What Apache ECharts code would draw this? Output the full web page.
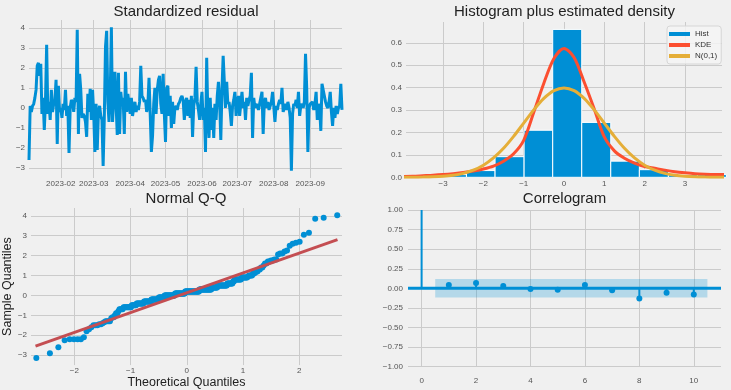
<!DOCTYPE html>
<html><head><meta charset="utf-8">
<script src="https://cdn.jsdelivr.net/npm/echarts@6/dist/echarts.min.js"></script>
<style>html,body{margin:0;padding:0;background:#f0f0f0}#c{width:731px;height:390px}</style>
</head><body><div id="c"></div>
<script>
// ---------- data ----------
const startDate = '2023-01-05';
const residuals = [
 -2.6, 0.1, -0.2, 0.1, 0.2, 0.5, 0.9, 2.1, 2.25, 1.6,
 2.2, -0.3, 0.5, -1.1, 0.3, 3.15, -0.3, 0.3, -0.6, 0.9,
 -0.2, 0.2, 0.4, 1.4, -1.8, 1.1, -0.2, 0.0, -0.5, 0.2,
 -0.1, 0.9, -0.4, 0.1, -2.25, 0.0, 0.4, 0.3, -0.2, 0.5,
 0.3, 3.9, -1.3, 1.7, 0.9, -0.5, -0.3, -0.4, -0.7, -1.45,
 0.7, -0.2, 0.95, -0.6, 0.9, -0.3, -2.2, 0.2, -2.1, -0.2,
 0.1, -0.4, -0.6, -2.9, -0.5, 3.05, 3.85, 0.3, -0.7, 0.5,
 4.03, -0.7, 0.4, 1.8, 0.2, -1.35, 1.75, -1.3, 0.8, 0.2,
 0.5, -1.3, 1.8, -0.2, 0.7, 0.2, -0.3, 0.5, -0.4, 0.0,
 0.3, -0.2, 0.1, -0.1, 0.3, 2.1, 0.6, 0.5, 0.3, 0.4,
 -0.2, 0.1, 1.5, -0.3, -2.2, -1.4, 0.2, 1.0, -0.3, 0.9,
 1.4, 1.6, 0.2, -0.3, 1.7, -0.3, -1.7, 1.0, 1.1, -0.4,
 0.6, -1.0, 0.3, -0.8, 0.0, 0.1, -0.1, 0.2, 0.3, 0.5,
 0.6, 0.4, -0.6, 0.2, 0.5, -0.4, 0.4, -0.5, 0.6, -1.45,
 0.1, 0.5, 2.05, 0.3, -0.1, -0.6, 0.2, 0.8, -0.6, 0.0,
 -2.2, 2.5, -0.4, -1.5, 0.5, -1.1, 0.0, -1.5, 0.2, -0.6,
 0.6, 1.3, 0.3, -1.6, 0.9, 2.6, 2.65, 0.0, 1.3, 0.2,
 0.3, -0.2, -0.9, 0.1, 0.4, 0.8, -0.4, 0.2, 0.6, -0.4,
 0.2, 0.8, 0.0, 0.3, -0.6, 0.5, 0.1, 0.4, 0.6, 1.75,
 -1.5, 0.5, 0.0, 0.2, 0.1, -0.1, 0.2, 0.5, 0.8, -1.3,
 0.3, 0.5, 0.0, 0.3, -0.1, 0.1, 0.3, 0.8, 0.1, -0.7,
 0.1, -0.1, 0.2, 0.4, 0.2, 1.0, -0.2, 0.0, 0.2, -0.1,
 0.3, 0.0, -0.5, -3.14, -0.3, 0.2, 0.1, 0.4, 0.0, 0.8,
 -0.4, 0.1, 0.2, 0.0, 0.3, 2.7, 1.0, -2.2, 0.0, 0.2,
 0.2, 0.3, -0.1, 0.2, 0.8, -0.6, 0.2, 0.0, -1.15, 1.2,
 1.15, 0.6, 0.3, 0.1, 0.0, 0.3, 0.8, -0.2, -0.9, 0.0,
 -0.5, 0.1, -0.3, 0.0, 0.1, 1.2, -0.1
];
const monthTicks = ['2023-02-01','2023-03-01','2023-04-01','2023-05-01','2023-06-01','2023-07-01','2023-08-01','2023-09-01'];
const residTicks = [-3, -2, -1, 0, 1, 2, 3, 4];

const histEdges = [-3.14, -2.42, -1.71, -0.99, -0.28, 0.44, 1.16, 1.87, 2.59, 3.31, 4.03];
const histDensity = [0.012, 0.03, 0.092, 0.21, 0.66, 0.245, 0.072, 0.034, 0.012, 0.012];
const densityX = [-4,-3.75,-3.5,-3.25,-3,-2.75,-2.5,-2.25,-2,-1.75,-1.5,-1.25,-1,-0.75,-0.5,-0.25,0,0.25,0.5,0.75,1,1.25,1.5,1.75,2,2.25,2.5,2.75,3,3.25,3.5,3.75,4];
const kdeY = [0.004,0.005,0.007,0.009,0.012,0.016,0.021,0.028,0.037,0.05,0.072,0.105,0.165,0.29,0.42,0.53,0.575,0.535,0.425,0.305,0.18,0.118,0.085,0.063,0.048,0.04,0.032,0.025,0.02,0.016,0.014,0.013,0.013];
const normY = [0.0001,0.0004,0.0009,0.002,0.0044,0.0091,0.0175,0.0317,0.054,0.0863,0.1295,0.1826,0.242,0.3011,0.3521,0.3867,0.3989,0.3867,0.3521,0.3011,0.242,0.1826,0.1295,0.0863,0.054,0.0317,0.0175,0.0091,0.0044,0.002,0.0009,0.0004,0.0001];
const histXTicks = [-3, -2, -1, 0, 1, 2, 3];
const histYTicks = [0, 0.1, 0.2, 0.3, 0.4, 0.5, 0.6];

const qqLineX = [-2.69, 2.68];
const qqLineY = [-2.55, 2.8];
const qqXTicks = [-2, -1, 0, 1, 2];

const acfLags = [0, 1, 2, 3, 4, 5, 6, 7, 8, 9, 10];
const acfValues = [1.0, 0.042, 0.068, 0.03, -0.008, -0.017, 0.042, -0.025, -0.13, -0.055, -0.08];
const confLags = [0.5, 2, 3, 4, 5, 6, 7, 8, 9, 10.5];
const confUpper = [0.118, 0.118, 0.118, 0.118, 0.118, 0.118, 0.118, 0.118, 0.118, 0.118];
const acfXTicks = [0, 2, 4, 6, 8, 10];
const acfYTicks = [-1, -0.75, -0.5, -0.25, 0, 0.25, 0.5, 0.75, 1];

// ---------- helpers ----------
const FONT = '"Liberation Sans", Arial, sans-serif';
const BLUE = '#008fd5', RED = '#fc4f30', YEL = '#e5ae38', GRIDC = '#cbcbcb', LAB = '#555555';
const DAY = 86400000;
const t0 = Date.parse(startDate + 'T00:00:00Z');
const residSeries = residuals.map((v, i) => [t0 + i * DAY, v]);
const monthTickTs = monthTicks.map(s => Date.parse(s + 'T00:00:00Z'));
const minus = s => String(s).replace('-', '\u2212');
const fmtMonth = v => { const d = new Date(v); return d.getUTCFullYear() + '-' + String(d.getUTCMonth() + 1).padStart(2, '0'); };

function invNorm(p) {
  const a = [-39.69683028665376, 220.9460984245205, -275.9285104469687, 138.3577518672690, -30.66479806614716, 2.506628277459239];
  const b = [-54.47609879822406, 161.5858368580409, -155.6989798598866, 66.80131188771972, -13.28068155288572];
  const c = [-0.007784894002430293, -0.3223964580411365, -2.400758277161838, -2.549732539343734, 4.374664141464968, 2.938163982698783];
  const d = [0.007784695709041462, 0.3224671290700398, 2.445134137142996, 3.754408661907416];
  const pl = 0.02425;
  let q, r;
  if (p < pl) { q = Math.sqrt(-2 * Math.log(p)); return (((((c[0]*q+c[1])*q+c[2])*q+c[3])*q+c[4])*q+c[5]) / ((((d[0]*q+d[1])*q+d[2])*q+d[3])*q+1); }
  if (p > 1 - pl) { q = Math.sqrt(-2 * Math.log(1 - p)); return -(((((c[0]*q+c[1])*q+c[2])*q+c[3])*q+c[4])*q+c[5]) / ((((d[0]*q+d[1])*q+d[2])*q+d[3])*q+1); }
  q = p - 0.5; r = q * q;
  return (((((a[0]*r+a[1])*r+a[2])*r+a[3])*r+a[4])*r+a[5])*q / (((((b[0]*r+b[1])*r+b[2])*r+b[3])*r+b[4])*r+1);
}
const sorted = residuals.slice().sort((x, y) => x - y);
const nRes = sorted.length;
const qqPoints = sorted.map((v, i) => [invNorm((i + 1) / (nRes + 1)), v]);

const histData = histDensity.map((h, i) => [histEdges[i], histEdges[i + 1], h]);
const kdeData = densityX.map((x, i) => [x, kdeY[i]]);
const normData = densityX.map((x, i) => [x, normY[i]]);

function mkAxis(gridIndex, min, max, ticks, fmt, margin, extra) {
  const ax = {
    gridIndex, type: 'value', min, max,
    axisLine: { show: false },
    axisTick: { show: false, customValues: ticks },
    splitLine: { show: true, lineStyle: { color: GRIDC, width: 1 } },
    axisLabel: { show: true, customValues: ticks, fontSize: 8, color: LAB, fontFamily: FONT, margin: margin, formatter: fmt, hideOverlap: false }
  };
  return Object.assign(ax, extra || {});
}

const chart = echarts.init(document.getElementById('c'), null, { renderer: 'canvas', width: 731, height: 390 });

const option = {
  animation: false,
  backgroundColor: '#f0f0f0',
  textStyle: { fontFamily: FONT },
  grid: [
    { left: 29, top: 20, width: 313, height: 158 },
    { left: 406, top: 22, width: 316, height: 155.3 },
    { left: 29, top: 208, width: 313, height: 158 },
    { left: 408, top: 210, width: 313, height: 156.7 }
  ],
  xAxis: [
    mkAxis(0, t0, t0 + (residuals.length - 1) * DAY, monthTickTs, fmtMonth, 2),
    mkAxis(1, -3.92, 3.92, histXTicks, v => minus(v), 2),
    mkAxis(2, -2.77, 2.76, qqXTicks, v => minus(v), 2, {
      name: 'Theoretical Quantiles', nameLocation: 'middle', nameGap: 10,
      nameTextStyle: { fontSize: 12.5, color: '#222', fontFamily: FONT, verticalAlign: 'top' }
    }),
    mkAxis(3, -0.5, 11, acfXTicks, v => String(v), 10)
  ],
  yAxis: [
    mkAxis(0, -3.5, 4.39, residTicks, v => minus(v), 4),
    mkAxis(1, 0, 0.693, histYTicks, v => v.toFixed(1), 4),
    mkAxis(2, -3.5, 4.39, residTicks, v => minus(v), 4, {
      name: 'Sample Quantiles', nameLocation: 'middle', nameGap: 17, nameRotate: 90,
      nameTextStyle: { fontSize: 12.5, color: '#222', fontFamily: FONT }
    }),
    mkAxis(3, -1, 1, acfYTicks, v => minus(v.toFixed(2)), 5)
  ],
  legend: {
    left: 667, top: 26, orient: 'vertical',
    data: [{ name: 'Hist', icon: 'rect' }, { name: 'KDE', icon: 'rect' }, { name: 'N(0,1)', icon: 'rect' }],
    itemWidth: 21, itemHeight: 4, itemGap: 3,
    padding: [4, 4, 4, 2],
    backgroundColor: 'rgba(244,244,244,0.85)', borderColor: '#d6d6d6', borderWidth: 1, borderRadius: 3,
    textStyle: { fontSize: 8, color: '#333', fontFamily: FONT, lineHeight: 8 }
  },
  graphic: [
    { type: 'text', x: 186, y: 12, style: { text: 'Standardized residual', font: '15px ' + FONT, fill: '#222', textAlign: 'center', textVerticalAlign: 'middle' } },
    { type: 'text', x: 564.5, y: 12, style: { text: 'Histogram plus estimated density', font: '15px ' + FONT, fill: '#222', textAlign: 'center', textVerticalAlign: 'middle' } },
    { type: 'text', x: 186, y: 199, style: { text: 'Normal Q-Q', font: '15px ' + FONT, fill: '#222', textAlign: 'center', textVerticalAlign: 'middle' } },
    { type: 'text', x: 564.5, y: 199, style: { text: 'Correlogram', font: '15px ' + FONT, fill: '#222', textAlign: 'center', textVerticalAlign: 'middle' } }
  ],
  series: [
    {
      type: 'line', xAxisIndex: 0, yAxisIndex: 0, data: residSeries, showSymbol: false,
      lineStyle: { color: BLUE, width: 3 }, itemStyle: { color: BLUE }
    },
    {
      name: 'Hist', type: 'custom', xAxisIndex: 1, yAxisIndex: 1, data: histData,
      itemStyle: { color: BLUE },
      encode: { x: [0, 1], y: 2 },
      renderItem: function (params, api) {
        const p0 = api.coord([api.value(0), api.value(2)]);
        const p1 = api.coord([api.value(1), 0]);
        return { type: 'rect', shape: { x: p0[0], y: p0[1], width: p1[0] - p0[0], height: p1[1] - p0[1] },
          style: { fill: BLUE, stroke: '#ffffff', lineWidth: 1 } };
      }
    },
    {
      name: 'KDE', type: 'line', xAxisIndex: 1, yAxisIndex: 1, data: kdeData, showSymbol: false, smooth: 0.3,
      lineStyle: { color: RED, width: 3 }, itemStyle: { color: RED }
    },
    {
      name: 'N(0,1)', type: 'line', xAxisIndex: 1, yAxisIndex: 1, data: normData, showSymbol: false, smooth: 0.3,
      lineStyle: { color: YEL, width: 3 }, itemStyle: { color: YEL }
    },
    {
      type: 'scatter', xAxisIndex: 2, yAxisIndex: 2, data: qqPoints, symbolSize: 6,
      itemStyle: { color: BLUE, opacity: 1 }
    },
    {
      type: 'line', xAxisIndex: 2, yAxisIndex: 2, data: qqLineX.map((x, i) => [x, qqLineY[i]]), showSymbol: false,
      lineStyle: { color: '#c44e52', width: 3 }
    },
    {
      type: 'custom', xAxisIndex: 3, yAxisIndex: 3, data: [[0, 0]],
      renderItem: function (params, api) {
        const pts = [];
        confLags.forEach((x, i) => pts.push(api.coord([x, confUpper[i]])));
        for (let i = confLags.length - 1; i >= 0; i--) pts.push(api.coord([confLags[i], -confUpper[i]]));
        return { type: 'polygon', shape: { points: pts }, style: { fill: 'rgba(0,143,213,0.25)' } };
      }
    },
    {
      type: 'line', xAxisIndex: 3, yAxisIndex: 3, data: [[-0.5, 0], [11, 0]], showSymbol: false,
      lineStyle: { color: BLUE, width: 3 }
    },
    {
      type: 'custom', xAxisIndex: 3, yAxisIndex: 3, data: acfLags.map((l, i) => [l, acfValues[i]]),
      renderItem: function (params, api) {
        const lag = api.value(0), v = api.value(1);
        const base = api.coord([lag, 0]);
        const top = api.coord([lag, v]);
        const children = [{ type: 'line', shape: { x1: base[0], y1: base[1], x2: top[0], y2: top[1] }, style: { stroke: BLUE, lineWidth: 2 } }];
        if (lag > 0) children.push({ type: 'circle', shape: { cx: top[0], cy: top[1], r: 3 }, style: { fill: BLUE } });
        return { type: 'group', children };
      }
    }
  ]
};
chart.setOption(option);
</script></body></html>
